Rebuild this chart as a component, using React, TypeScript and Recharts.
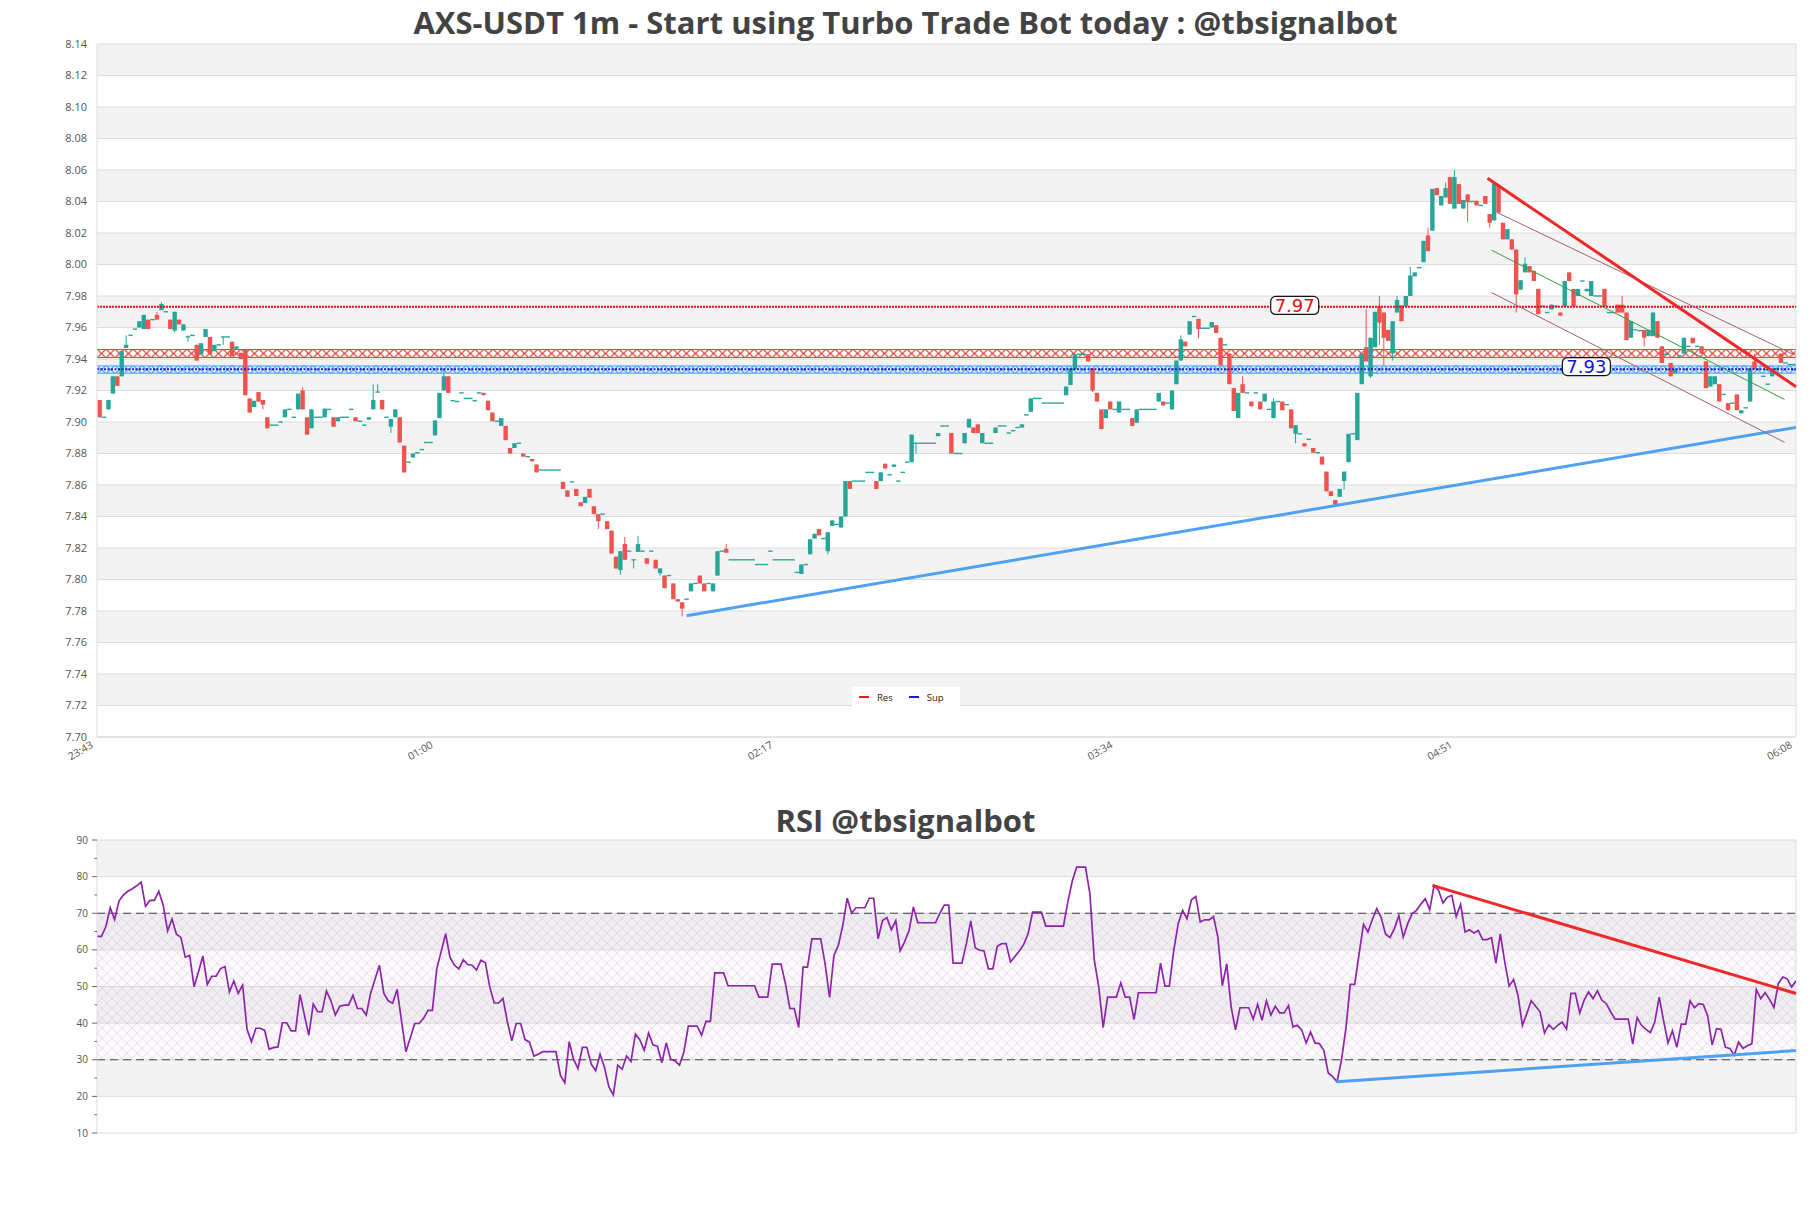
import React from 'react'
import {
  Bar,
  CartesianGrid,
  ComposedChart,
  Line,
  ReferenceArea,
  ReferenceDot,
  ReferenceLine,
  XAxis,
  YAxis,
} from 'recharts'

// 1m candles, 23:43 -> 06:07
// prettier-ignore
const opens = [
  7.914, 7.903, 7.908, 7.918, 7.929, 7.929, 7.947, 7.955, 7.959, 7.960,
  7.959, 7.965, 7.965, 7.968, 7.971, 7.970, 7.965, 7.958, 7.965, 7.958,
  7.954, 7.955, 7.949, 7.943, 7.954, 7.954, 7.945, 7.949, 7.954, 7.954,
  7.951, 7.9465, 7.944, 7.946, 7.915, 7.9095, 7.919, 7.914, 7.903, 7.898,
  7.898, 7.900, 7.903, 7.908, 7.903, 7.908, 7.920, 7.903, 7.896, 7.903,
  7.903, 7.903, 7.908, 7.903, 7.9005, 7.903, 7.903, 7.908, 7.903, 7.9005,
  7.898, 7.9015, 7.908, 7.919, 7.914, 7.903, 7.897, 7.903, 7.903, 7.885,
  7.8745, 7.8775, 7.8805, 7.8825, 7.887, 7.887, 7.8915, 7.9025, 7.920, 7.929,
  7.9135, 7.913, 7.9185, 7.915, 7.915, 7.9135, 7.9185, 7.9185, 7.9135, 7.906,
  7.9005, 7.8975, 7.8975, 7.8835, 7.8835, 7.8865, 7.880, 7.878, 7.8765, 7.873,
  7.8695, 7.8695, 7.8695, 7.8695, 7.8695, 7.862, 7.8565, 7.862, 7.8575, 7.849,
  7.8485, 7.8575, 7.8465, 7.8415, 7.8415, 7.837, 7.831, 7.8145, 7.806, 7.8225,
  7.818, 7.8125, 7.8175, 7.818, 7.8135, 7.818, 7.8125, 7.804, 7.8025, 7.8025,
  7.7975, 7.7875, 7.7855, 7.7875, 7.7925, 7.7975, 7.8025, 7.7975, 7.7975, 7.7925,
  7.8025, 7.818, 7.8195, 7.8125, 7.8125, 7.8125, 7.8125, 7.8125, 7.8125, 7.8095,
  7.8095, 7.8095, 7.818, 7.8125, 7.8125, 7.8125, 7.8125, 7.8125, 7.8045, 7.8035,
  7.8095, 7.816, 7.826, 7.832, 7.826, 7.818, 7.834, 7.835, 7.833, 7.840,
  7.8625, 7.8625, 7.8625, 7.8625, 7.868, 7.868, 7.8625, 7.8625, 7.8735, 7.8665,
  7.8715, 7.8625, 7.868, 7.8745, 7.8745, 7.8865, 7.8865, 7.8865, 7.8865, 7.8865,
  7.891, 7.8975, 7.8975, 7.893, 7.880, 7.880, 7.8865, 7.8965, 7.8965, 7.8985,
  7.8865, 7.8865, 7.8865, 7.893, 7.8975, 7.8975, 7.893, 7.8945, 7.8965, 7.8965,
  7.9045, 7.9065, 7.915, 7.915, 7.912, 7.912, 7.912, 7.912, 7.912, 7.917,
  7.9235, 7.9335, 7.943, 7.943, 7.943, 7.934, 7.9185, 7.908, 7.9025, 7.913,
  7.908, 7.906, 7.908, 7.908, 7.9025, 7.8995, 7.908, 7.908, 7.908, 7.908,
  7.913, 7.913, 7.912, 7.908, 7.924, 7.939, 7.951, 7.9555, 7.967, 7.9655,
  7.9595, 7.9595, 7.960, 7.9615, 7.9535, 7.949, 7.9435, 7.9215, 7.9025, 7.924,
  7.9185, 7.913, 7.9185, 7.913, 7.913, 7.908, 7.9025, 7.913, 7.913, 7.911,
  7.908, 7.8925, 7.8925, 7.8865, 7.889, 7.8835, 7.8805, 7.878, 7.8685, 7.856,
  7.8505, 7.8525, 7.8625, 7.8745, 7.8925, 7.8885, 7.924, 7.9475, 7.929, 7.9475,
  7.9735, 7.9695, 7.9585, 7.9435, 7.9695, 7.974, 7.9735, 7.980, 7.9925, 7.998,
  8.0015, 8.0185, 8.0215, 8.0485, 8.0375, 8.0425, 8.0555, 8.0355, 8.051, 8.0355,
  8.0445, 8.040, 8.0405, 8.0375, 8.0435, 8.032, 8.028, 8.050, 8.0265, 8.016,
  8.016, 8.0095, 7.984, 7.995, 7.999, 7.996, 7.9845, 7.9735, 7.9695, 7.9715,
  7.9735, 7.9695, 7.9735, 7.995, 7.9845, 7.980, 7.9895, 7.983, 7.980, 7.980,
  7.980, 7.9845, 7.9695, 7.9695, 7.9745, 7.9745, 7.9695, 7.9535, 7.9585, 7.958,
  7.9585, 7.9545, 7.9545, 7.964, 7.948, 7.943, 7.9375, 7.931, 7.942, 7.9435,
  7.948, 7.9535, 7.948, 7.948, 7.9385, 7.9225, 7.924, 7.924, 7.9175, 7.912,
  7.912, 7.9175, 7.9055, 7.909, 7.913, 7.9385, 7.9335, 7.929, 7.924, 7.929,
  7.934, 7.9435, 7.9375, 7.9365, 7.9365,
]
// prettier-ignore
const highs = [
  7.914, 7.903, 7.914, 7.929, 7.929, 7.945, 7.955, 7.955, 7.959, 7.964,
  7.968, 7.965, 7.965, 7.970, 7.976, 7.970, 7.965, 7.970, 7.965, 7.962,
  7.955, 7.955, 7.949, 7.950, 7.959, 7.954, 7.949, 7.949, 7.954, 7.954,
  7.951, 7.948, 7.944, 7.946, 7.915, 7.9135, 7.919, 7.914, 7.903, 7.898,
  7.898, 7.900, 7.908, 7.908, 7.903, 7.918, 7.922, 7.903, 7.908, 7.903,
  7.903, 7.9085, 7.908, 7.903, 7.903, 7.903, 7.903, 7.908, 7.903, 7.9005,
  7.898, 7.903, 7.924, 7.924, 7.914, 7.903, 7.902, 7.908, 7.903, 7.885,
  7.8745, 7.880, 7.8805, 7.8825, 7.887, 7.887, 7.901, 7.9185, 7.934, 7.929,
  7.9135, 7.913, 7.9185, 7.915, 7.915, 7.9135, 7.9185, 7.9185, 7.9135, 7.906,
  7.9005, 7.9025, 7.8975, 7.8835, 7.8865, 7.8865, 7.880, 7.878, 7.8765, 7.873,
  7.8695, 7.8695, 7.8695, 7.8695, 7.8695, 7.862, 7.8565, 7.862, 7.8575, 7.849,
  7.8525, 7.8575, 7.8465, 7.8415, 7.8415, 7.837, 7.831, 7.8145, 7.818, 7.827,
  7.818, 7.8125, 7.8275, 7.818, 7.8135, 7.818, 7.8125, 7.807, 7.8025, 7.8025,
  7.7975, 7.7875, 7.7855, 7.7875, 7.7975, 7.7975, 7.8025, 7.7975, 7.7975, 7.7975,
  7.818, 7.818, 7.8225, 7.8125, 7.8125, 7.8125, 7.8125, 7.8125, 7.8125, 7.8095,
  7.8095, 7.8095, 7.818, 7.8125, 7.8125, 7.8125, 7.8125, 7.8125, 7.8045, 7.8095,
  7.8095, 7.8255, 7.829, 7.832, 7.826, 7.830, 7.8375, 7.835, 7.840, 7.8625,
  7.8625, 7.8625, 7.8625, 7.8625, 7.868, 7.868, 7.8625, 7.868, 7.8735, 7.8665,
  7.873, 7.8625, 7.868, 7.8745, 7.892, 7.8865, 7.8865, 7.8865, 7.8865, 7.8865,
  7.893, 7.8975, 7.8975, 7.893, 7.880, 7.880, 7.893, 7.902, 7.8965, 7.8985,
  7.893, 7.8865, 7.8865, 7.8965, 7.8975, 7.8975, 7.893, 7.8945, 7.8965, 7.8985,
  7.9045, 7.915, 7.915, 7.915, 7.912, 7.912, 7.912, 7.912, 7.912, 7.9225,
  7.934, 7.943, 7.943, 7.943, 7.943, 7.934, 7.9185, 7.908, 7.908, 7.913,
  7.908, 7.913, 7.908, 7.908, 7.9025, 7.908, 7.908, 7.908, 7.908, 7.908,
  7.9185, 7.913, 7.912, 7.920, 7.939, 7.955, 7.951, 7.964, 7.967, 7.9655,
  7.9595, 7.9595, 7.9635, 7.9615, 7.9535, 7.949, 7.9435, 7.9215, 7.9185, 7.929,
  7.9185, 7.913, 7.9185, 7.913, 7.918, 7.908, 7.915, 7.913, 7.913, 7.911,
  7.908, 7.898, 7.8925, 7.8865, 7.889, 7.8835, 7.8805, 7.878, 7.8685, 7.856,
  7.8505, 7.8575, 7.8685, 7.8925, 7.8925, 7.9185, 7.9435, 7.9715, 7.9535, 7.970,
  7.980, 7.9695, 7.9585, 7.964, 7.980, 7.974, 7.980, 7.9985, 7.995, 7.998,
  8.015, 8.0235, 8.048, 8.0485, 8.0435, 8.052, 8.0555, 8.060, 8.051, 8.041,
  8.0445, 8.040, 8.0405, 8.0375, 8.0435, 8.032, 8.0515, 8.050, 8.0265, 8.0225,
  8.016, 8.0095, 7.990, 8.0045, 7.999, 7.996, 7.9845, 7.9735, 7.9695, 7.9745,
  7.9735, 7.9695, 7.9895, 7.995, 7.9845, 7.9845, 7.9895, 7.9845, 7.9895, 7.980,
  7.980, 7.9845, 7.9695, 7.9695, 7.9745, 7.980, 7.9695, 7.964, 7.9585, 7.958,
  7.9585, 7.9585, 7.9695, 7.964, 7.948, 7.943, 7.9375, 7.9335, 7.942, 7.9535,
  7.948, 7.9535, 7.948, 7.948, 7.9385, 7.929, 7.929, 7.924, 7.9175, 7.912,
  7.912, 7.9175, 7.9075, 7.909, 7.934, 7.9435, 7.9335, 7.929, 7.924, 7.934,
  7.934, 7.9435, 7.9375, 7.9365, 7.9365,
]
// prettier-ignore
const lows = [
  7.903, 7.903, 7.908, 7.918, 7.923, 7.929, 7.947, 7.955, 7.959, 7.960,
  7.959, 7.959, 7.965, 7.965, 7.971, 7.970, 7.959, 7.957, 7.962, 7.958,
  7.951, 7.955, 7.939, 7.943, 7.954, 7.943, 7.945, 7.949, 7.949, 7.954,
  7.942, 7.9465, 7.940, 7.917, 7.906, 7.9095, 7.913, 7.908, 7.896, 7.898,
  7.898, 7.900, 7.903, 7.908, 7.903, 7.908, 7.908, 7.892, 7.896, 7.903,
  7.903, 7.903, 7.908, 7.897, 7.9005, 7.903, 7.903, 7.908, 7.9005, 7.9005,
  7.898, 7.9015, 7.908, 7.919, 7.908, 7.903, 7.893, 7.903, 7.887, 7.868,
  7.8745, 7.8775, 7.8805, 7.8825, 7.887, 7.887, 7.8915, 7.9025, 7.920, 7.9185,
  7.9135, 7.913, 7.9185, 7.915, 7.915, 7.9135, 7.9185, 7.917, 7.9075, 7.9005,
  7.9005, 7.8975, 7.8885, 7.880, 7.8835, 7.8865, 7.878, 7.878, 7.875, 7.868,
  7.8695, 7.8695, 7.8695, 7.8695, 7.8695, 7.8575, 7.8525, 7.862, 7.853, 7.8465,
  7.8485, 7.852, 7.8415, 7.832, 7.8415, 7.832, 7.8165, 7.807, 7.803, 7.8125,
  7.818, 7.807, 7.8175, 7.818, 7.810, 7.818, 7.807, 7.8025, 7.7945, 7.8025,
  7.7875, 7.786, 7.7766, 7.7875, 7.7925, 7.7975, 7.7975, 7.7925, 7.7975, 7.7925,
  7.8025, 7.818, 7.817, 7.8125, 7.8125, 7.8125, 7.8125, 7.8125, 7.8125, 7.8095,
  7.8095, 7.8095, 7.818, 7.8125, 7.8125, 7.8125, 7.8125, 7.8125, 7.8045, 7.8035,
  7.8095, 7.816, 7.826, 7.828, 7.826, 7.816, 7.834, 7.835, 7.833, 7.840,
  7.8575, 7.8625, 7.8625, 7.8625, 7.868, 7.868, 7.8575, 7.8625, 7.8705, 7.8665,
  7.8715, 7.8625, 7.868, 7.8745, 7.8745, 7.880, 7.8865, 7.8865, 7.8865, 7.8865,
  7.891, 7.8975, 7.8975, 7.880, 7.880, 7.880, 7.8865, 7.8965, 7.893, 7.893,
  7.8865, 7.8865, 7.8865, 7.893, 7.8975, 7.8975, 7.893, 7.8945, 7.8965, 7.8965,
  7.9045, 7.9065, 7.915, 7.915, 7.912, 7.912, 7.912, 7.912, 7.912, 7.917,
  7.9235, 7.9335, 7.943, 7.943, 7.9385, 7.919, 7.913, 7.8955, 7.9025, 7.908,
  7.908, 7.906, 7.908, 7.908, 7.8975, 7.8995, 7.908, 7.908, 7.908, 7.908,
  7.913, 7.9105, 7.912, 7.908, 7.924, 7.939, 7.948, 7.9555, 7.967, 7.953,
  7.9595, 7.9595, 7.960, 7.9565, 7.936, 7.949, 7.924, 7.907, 7.9025, 7.9185,
  7.9185, 7.910, 7.9185, 7.908, 7.913, 7.908, 7.9025, 7.913, 7.9075, 7.911,
  7.896, 7.8865, 7.8925, 7.8845, 7.889, 7.8805, 7.8805, 7.873, 7.856, 7.853,
  7.8463, 7.8525, 7.857, 7.8745, 7.8925, 7.8885, 7.924, 7.9385, 7.928, 7.9475,
  7.949, 7.936, 7.9515, 7.939, 7.9695, 7.964, 7.9735, 7.980, 7.9925, 7.998,
  8.0015, 8.0085, 8.0215, 8.044, 8.0375, 8.0425, 8.0385, 8.0355, 8.0385, 8.0355,
  8.027, 8.040, 8.0375, 8.0375, 8.0385, 8.0235, 8.028, 8.033, 8.016, 8.016,
  8.0095, 7.9695, 7.984, 7.995, 7.995, 7.9895, 7.9685, 7.9735, 7.9695, 7.9715,
  7.9735, 7.9675, 7.9735, 7.9895, 7.9735, 7.980, 7.9895, 7.983, 7.980, 7.980,
  7.980, 7.9735, 7.9695, 7.9695, 7.9695, 7.9695, 7.952, 7.9535, 7.9585, 7.958,
  7.948, 7.9545, 7.9545, 7.9535, 7.9375, 7.943, 7.929, 7.931, 7.942, 7.9435,
  7.948, 7.950, 7.948, 7.9435, 7.9215, 7.9225, 7.924, 7.913, 7.9175, 7.9075,
  7.912, 7.9075, 7.9055, 7.909, 7.913, 7.9335, 7.9335, 7.929, 7.924, 7.929,
  7.934, 7.9375, 7.9375, 7.9365, 7.9365,
]
// prettier-ignore
const closes = [
  7.903, 7.903, 7.914, 7.929, 7.923, 7.945, 7.949, 7.955, 7.959, 7.964,
  7.968, 7.959, 7.965, 7.965, 7.975, 7.970, 7.959, 7.970, 7.962, 7.962,
  7.954, 7.955, 7.939, 7.950, 7.959, 7.943, 7.949, 7.949, 7.954, 7.954,
  7.942, 7.948, 7.940, 7.917, 7.906, 7.9135, 7.913, 7.911, 7.896, 7.898,
  7.898, 7.900, 7.908, 7.908, 7.903, 7.918, 7.908, 7.892, 7.908, 7.903,
  7.903, 7.9085, 7.908, 7.897, 7.903, 7.903, 7.903, 7.908, 7.9005, 7.9005,
  7.898, 7.903, 7.914, 7.919, 7.908, 7.903, 7.902, 7.908, 7.887, 7.868,
  7.8745, 7.880, 7.8805, 7.8825, 7.887, 7.887, 7.901, 7.9185, 7.929, 7.9185,
  7.9135, 7.913, 7.9185, 7.915, 7.915, 7.9135, 7.9185, 7.917, 7.9075, 7.9005,
  7.9005, 7.9025, 7.8885, 7.880, 7.8865, 7.8865, 7.878, 7.878, 7.875, 7.868,
  7.8695, 7.8695, 7.8695, 7.8695, 7.8695, 7.8575, 7.8525, 7.862, 7.853, 7.8465,
  7.8525, 7.852, 7.8415, 7.837, 7.8415, 7.832, 7.8165, 7.807, 7.818, 7.8125,
  7.818, 7.8125, 7.8225, 7.818, 7.810, 7.818, 7.807, 7.807, 7.7945, 7.8025,
  7.7875, 7.786, 7.7815, 7.7875, 7.7975, 7.7975, 7.7975, 7.7925, 7.7975, 7.7975,
  7.818, 7.818, 7.817, 7.8125, 7.8125, 7.8125, 7.8125, 7.8125, 7.8125, 7.8095,
  7.8095, 7.8095, 7.818, 7.8125, 7.8125, 7.8125, 7.8125, 7.8125, 7.8045, 7.8095,
  7.8095, 7.8255, 7.829, 7.828, 7.826, 7.830, 7.8375, 7.835, 7.840, 7.8625,
  7.8575, 7.8625, 7.8625, 7.8625, 7.868, 7.868, 7.8575, 7.868, 7.8705, 7.8665,
  7.873, 7.8625, 7.868, 7.8745, 7.892, 7.8865, 7.8865, 7.8865, 7.8865, 7.8865,
  7.893, 7.8975, 7.8975, 7.880, 7.880, 7.880, 7.893, 7.902, 7.893, 7.893,
  7.893, 7.8865, 7.8865, 7.8965, 7.8975, 7.8975, 7.893, 7.8945, 7.8965, 7.8985,
  7.9045, 7.915, 7.915, 7.915, 7.912, 7.912, 7.912, 7.912, 7.912, 7.9225,
  7.934, 7.943, 7.943, 7.943, 7.9385, 7.920, 7.913, 7.8955, 7.908, 7.908,
  7.908, 7.913, 7.908, 7.908, 7.8975, 7.908, 7.908, 7.908, 7.908, 7.908,
  7.9185, 7.9105, 7.912, 7.920, 7.939, 7.9525, 7.948, 7.964, 7.967, 7.959,
  7.9595, 7.9595, 7.9635, 7.9565, 7.936, 7.949, 7.924, 7.907, 7.9185, 7.9185,
  7.9185, 7.910, 7.9185, 7.908, 7.918, 7.908, 7.913, 7.913, 7.9075, 7.911,
  7.896, 7.898, 7.8925, 7.8845, 7.889, 7.8805, 7.8805, 7.873, 7.856, 7.853,
  7.8475, 7.8575, 7.8685, 7.8925, 7.8925, 7.9185, 7.9435, 7.9385, 7.9535, 7.970,
  7.963, 7.9535, 7.9515, 7.964, 7.9775, 7.964, 7.980, 7.993, 7.995, 7.998,
  8.015, 8.0085, 8.048, 8.044, 8.0435, 8.0485, 8.0385, 8.0555, 8.0385, 8.041,
  8.0395, 8.040, 8.0375, 8.0375, 8.0385, 8.0265, 8.0515, 8.033, 8.016, 8.0225,
  8.0095, 7.981, 7.990, 8.0005, 7.995, 7.9895, 7.9685, 7.9735, 7.9695, 7.9745,
  7.9735, 7.9675, 7.9895, 7.9895, 7.9735, 7.9845, 7.9895, 7.9845, 7.9895, 7.980,
  7.980, 7.9735, 7.9695, 7.9695, 7.9695, 7.9695, 7.952, 7.964, 7.9585, 7.958,
  7.9535, 7.9585, 7.9695, 7.9535, 7.9375, 7.943, 7.929, 7.9335, 7.942, 7.9535,
  7.948, 7.950, 7.948, 7.9435, 7.9215, 7.929, 7.929, 7.913, 7.9175, 7.9075,
  7.912, 7.9075, 7.9075, 7.909, 7.934, 7.9335, 7.9335, 7.929, 7.924, 7.934,
  7.934, 7.9375, 7.9375, 7.9365, 7.9365,
]

// RSI(14), one value per minute
// prettier-ignore
const rsiValues = [
  63.7, 63.7, 66.3, 71.5, 68.3, 73.4, 75, 76, 76.7, 77.5,
  78.5, 71.9, 73.5, 73.5, 76, 72.2, 65.2, 68.4, 64.3, 63.4,
  58, 58.5, 49.9, 54, 58.3, 50.6, 52.8, 52.8, 54.9, 55.4,
  48.5, 51.5, 48.1, 50.4, 38.3, 34.9, 38.6, 38.6, 38, 32.9,
  33.3, 33.5, 40.1, 40.1, 37.9, 37.9, 47.8, 42.2, 36.7, 45.2,
  43.1, 43.1, 48.8, 46.1, 42.2, 44.6, 44.9, 44.9, 47.6, 44,
  44, 42.2, 48.1, 52, 55.8, 48.1, 46.1, 45.4, 49.2, 40.7,
  32.2, 36, 39.9, 39.9, 41.3, 43.5, 43.5, 54.9, 59.6, 64.4,
  57.9, 55.8, 54.8, 57.3, 56, 55.8, 54.5, 57.2, 56.5, 49.9,
  45.5, 45.5, 46.7, 40.3, 35.2, 39.9, 39.9, 35.5, 34.8, 31,
  31.5, 32.2, 32.2, 32.2, 32.2, 25.8, 23.7, 34.9, 30.1, 27.6,
  33.4, 33.4, 28.8, 27, 31.5, 27.9, 22.6, 20.4, 28.5, 27.4,
  31, 29.5, 37, 35.5, 32.6, 37.3, 34, 33.7, 29.2, 34.6,
  30.1, 29.7, 28.5, 32.2, 39.2, 39.2, 39.2, 36.7, 40.5, 40.5,
  53.7, 53.7, 53.7, 50.2, 50.2, 50.2, 50.2, 50.2, 50.2, 50.2,
  47.1, 47.1, 47.1, 56.1, 56.1, 56.1, 50.8, 44, 44, 38.8,
  55.3, 55.3, 63, 63, 63, 56.1, 47, 58.5, 61.3, 66.7,
  74.1, 70, 71.5, 71.5, 71.5, 74.1, 74.1, 63, 68, 68.8,
  65.5, 68, 59.7, 62.2, 65.2, 71.7, 67.4, 67.4, 67.4, 67.4,
  67.4, 70, 72.2, 72.2, 56.4, 56.4, 56.4, 61.7, 67.9, 60.6,
  59.9, 59.7, 54.8, 54.8, 61, 61.7, 61.7, 56.7, 58.2, 59.7,
  61.5, 64.4, 70.3, 70.3, 70.3, 66.5, 66.5, 66.5, 66.5, 66.5,
  73.1, 78.8, 82.6, 82.6, 82.6, 75.3, 57.1, 49.9, 38.8, 47.1,
  47.1, 47.1, 51, 47.1, 47.1, 41, 48.3, 48.3, 48.3, 48.3,
  48.3, 56.4, 50.1, 50.1, 59.9, 67.1, 70.8, 68.5, 73.7, 74.6,
  67.6, 68.2, 68.2, 69.1, 63.5, 50.2, 56.2, 44.4, 38.2, 44.2,
  44.2, 44.2, 41.1, 45.1, 40.8, 46.1, 42.2, 44.6, 42.8, 42.8,
  44.8, 39, 39.4, 38.1, 34.6, 37.6, 34.6, 34.4, 32.6, 26.4,
  25.4, 24, 29.9, 38.5, 50.6, 50.6, 59, 67, 64.9, 68.3,
  71.3, 68.8, 64.3, 63.4, 65.8, 69.4, 63.5, 67.1, 69.9, 70.8,
  72.5, 74, 71, 77.6, 76.2, 72.8, 74.4, 74.9, 69.1, 72.4,
  64.9, 65.5, 64.6, 65.3, 62.8, 62.8, 63.3, 56.4, 64.4, 56.7,
  50.1, 51.9, 47.6, 39.4, 42.6, 46.1, 44.6, 43.1, 37.3, 39.6,
  38.3, 39.4, 40.3, 38.4, 48.1, 48.1, 42.8, 46.3, 48.5, 46.7,
  48.8, 46.3, 45.3, 43.1, 41.1, 41.1, 41.1, 41.1, 34.3, 41.5,
  39.4, 38.3, 37.4, 40.3, 47.1, 40.6, 34.6, 37.9, 33.4, 39.7,
  39.7, 46.1, 44.2, 45.3, 45.1, 41.9, 34, 38.5, 38.3, 33.4,
  33.1, 31.3, 34.8, 33.1, 33.8, 34.4, 49.2, 46.7, 48.3, 46.5,
  44.3, 50.8, 52.6, 52.1, 49.9, 51.5,
]

const timeTicks = [0, 77, 154, 231, 308, 385]
const timeLabels = ['23:43', '01:00', '02:17', '03:34', '04:51', '06:08']
// prettier-ignore
const priceTicks = [
  7.70, 7.72, 7.74, 7.76, 7.78, 7.80, 7.82, 7.84, 7.86, 7.88, 7.90, 7.92,
  7.94, 7.96, 7.98, 8.00, 8.02, 8.04, 8.06, 8.08, 8.10, 8.12, 8.14,
]
const rsiMajorTicks = [10, 20, 30, 40, 50, 60, 70, 80, 90]
const rsiAllTicks = [10, 15, 20, 25, 30, 35, 40, 45, 50, 55, 60, 65, 70, 75, 80, 85, 90]

// levels and trend lines
const resistanceLevel = 7.9732
const supportLevel = 7.9335
const resistanceZone = [7.941, 7.946]
const supportZone = [7.931, 7.9356]
const resistanceTag = { x: 271.4, y: 7.974, text: '7.97' }
const supportTag = { x: 337.5, y: 7.9352, text: '7.93' }
const supportTrend = [{ x: 133.6, y: 7.777 }, { x: 385, y: 7.8966 }]
const resistanceTrend = [{ x: 315.1, y: 8.0547 }, { x: 385, y: 7.9224 }]
const channelUpper = [{ x: 317.2, y: 8.0331 }, { x: 384.4, y: 7.9429 }]
const channelMid = [{ x: 316.0, y: 8.0091 }, { x: 382.4, y: 7.9143 }]
const channelLower = [{ x: 316.0, y: 7.9822 }, { x: 382.4, y: 7.8871 }]
const rsiDownTrend = [{ x: 302.6, y: 77.6 }, { x: 385, y: 48.1 }]
const rsiUpTrend = [{ x: 280.9, y: 24 }, { x: 385, y: 32.5 }]

const UP = '#26a69a'
const DOWN = '#ef5350'
const GRID = '#dcdcdc'
const FONT = '"Open Sans", "DejaVu Sans", sans-serif'
const CANDLE_SHIFT = 0.6

const candleRows = opens.map((o, i) => ({
  x: i + CANDLE_SHIFT,
  open: o,
  high: highs[i],
  low: lows[i],
  close: closes[i],
  range: [lows[i], highs[i]],
}))

const rsiRows = rsiValues.map((v, i) => ({ x: i, rsi: v }))

function Candle(props: any) {
  const { x, y, width, height, payload } = props
  if (x == null || y == null || !payload) return null
  const top = Math.min(y, y + height)
  const h = Math.abs(height)
  const { open, close, high, low } = payload
  const span = high - low
  const toY = (v: number) => (span > 0 ? top + ((high - v) / span) * h : top)
  const color = close >= open ? UP : DOWN
  const cx = x + width / 2
  const bTop = toY(Math.max(open, close))
  const rawH = toY(Math.min(open, close)) - bTop
  const bH = Math.max(rawH, 1.4)
  return (
    <g>
      {span > 0 && <line x1={cx} x2={cx} y1={top} y2={top + h} stroke={color} strokeWidth={1} />}
      <rect x={x} y={rawH < 1.4 ? bTop - 0.7 : bTop} width={width} height={bH} fill={color} />
    </g>
  )
}

function xBand(id: string, color: string) {
  return (p: any) => {
    const { x, y, width, height } = p
    const step = 9
    return (
      <g>
        <defs>
          <pattern id={id} patternUnits="userSpaceOnUse" x={x} y={y} width={step} height={height}>
            <path
              d={`M0.5 0 L${step - 0.5} ${height} M0.5 ${height} L${step - 0.5} 0`}
              stroke={color}
              strokeWidth={1.1}
              fill="none"
            />
          </pattern>
        </defs>
        <rect x={x} y={y} width={width} height={height} fill={`url(#${id})`} />
        <line x1={x} x2={x + width} y1={y} y2={y} stroke={color} strokeWidth={1} />
        <line x1={x} x2={x + width} y1={y + height} y2={y + height} stroke={color} strokeWidth={1} />
      </g>
    )
  }
}

function crossHatch(p: any) {
  const { x, y, width, height } = p
  return (
    <g>
      <defs>
        <pattern id="rsiHatch" patternUnits="userSpaceOnUse" x={x} y={y} width={10} height={10}>
          <path d="M0 0 L10 10 M10 0 L0 10" stroke="#b7a6c6" strokeWidth={0.6} fill="none" opacity={0.55} />
        </pattern>
      </defs>
      <rect x={x} y={y} width={width} height={height} fill="rgba(190,150,210,0.05)" />
      <rect x={x} y={y} width={width} height={height} fill="url(#rsiHatch)" />
    </g>
  )
}

function priceTag(text: string, color: string) {
  return (p: any) => {
    const { cx, cy } = p
    if (cx == null || cy == null) return null
    return (
      <g>
        <rect x={cx - 24} y={cy - 9} width={48} height={18} rx={5} fill="#fff" stroke="#111" strokeWidth={1.2} />
        <text x={cx} y={cy + 6.5} textAnchor="middle" fontSize={18} fill={color} fontFamily='"DejaVu Sans", sans-serif'>
          {text}
        </text>
      </g>
    )
  }
}

function TimeTick(props: any) {
  const { x, y, payload } = props
  const label = timeLabels[timeTicks.indexOf(payload.value)]
  const ax = x - 3
  const ay = y + 10
  return (
    <text
      x={ax}
      y={ay}
      transform={`rotate(-30 ${ax} ${ay})`}
      textAnchor="end"
      fontSize={10.5}
      fill="#555"
      fontFamily={FONT}
    >
      {label}
    </text>
  )
}

function RsiTick(props: any) {
  const { x, y, payload } = props
  const major = payload.value % 10 === 0
  return (
    <g>
      <line x1={x - (major ? 5 : 2.5)} x2={x} y1={y} y2={y} stroke="#666" strokeWidth={1} />
      {major && (
        <text x={x - 9} y={y + 3.5} textAnchor="end" fontSize={10} fill="#555" fontFamily={FONT}>
          {payload.value}
        </text>
      )}
    </g>
  )
}

const titleStyle: React.CSSProperties = {
  position: 'absolute',
  left: 0,
  width: 1811,
  textAlign: 'center',
  fontFamily: FONT,
  fontWeight: 700,
  fontSize: 31,
  color: '#434343',
  lineHeight: '34px',
}

export default function App() {
  return (
    <div style={{ position: 'absolute', left: 0, top: 0, width: 1811, height: 1208, background: '#fff' }}>
      <div style={{ ...titleStyle, top: 5 }}>AXS-USDT 1m - Start using Turbo Trade Bot today : @tbsignalbot</div>

      <div style={{ position: 'absolute', left: 0, top: 0 }}>
        <ComposedChart width={1811} height={800} data={candleRows} margin={{ top: 44, right: 15, bottom: 23, left: 0 }}>
          <CartesianGrid vertical={false} stroke={GRID} horizontalFill={['#f3f3f3', '#ffffff']} />
          <XAxis
            type="number"
            dataKey="x"
            domain={[0, 385]}
            ticks={timeTicks}
            tick={TimeTick}
            tickLine={false}
            tickSize={0}
            tickMargin={0}
            axisLine={{ stroke: GRID }}
            height={40}
            allowDataOverflow
          />
          <YAxis
            type="number"
            domain={[7.7, 8.14]}
            ticks={priceTicks}
            tickFormatter={(v: number) => v.toFixed(2)}
            tick={{ fontSize: 11, fill: '#555', fontFamily: FONT }}
            tickLine={false}
            tickSize={0}
            tickMargin={10}
            axisLine={{ stroke: GRID }}
            width={97}
            allowDataOverflow
          />
          <ReferenceLine x={385} stroke={GRID} />
          <ReferenceArea y1={resistanceZone[0]} y2={resistanceZone[1]} shape={xBand('resBand', '#e53935')} />
          <ReferenceArea y1={supportZone[0]} y2={supportZone[1]} shape={xBand('supBand', '#3d9cff')} />
          <ReferenceLine y={supportLevel} stroke="#1a1ad6" strokeWidth={2} strokeDasharray="2 1.5" />
          <ReferenceLine y={resistanceLevel} stroke="#e01010" strokeWidth={2} strokeDasharray="2 1" />
          <Bar dataKey="range" barSize={4.4} shape={Candle} isAnimationActive={false} />
          <ReferenceLine segment={supportTrend} stroke="#4ea1f3" strokeWidth={3} />
          <ReferenceLine segment={channelUpper} stroke="#a2606f" strokeWidth={1} />
          <ReferenceLine segment={channelLower} stroke="#a2606f" strokeWidth={1} />
          <ReferenceLine segment={channelMid} stroke="#2f9e3a" strokeWidth={1} />
          <ReferenceLine segment={resistanceTrend} stroke="#f02828" strokeWidth={3} />
          <ReferenceDot
            x={resistanceTag.x}
            y={resistanceTag.y}
            r={0}
            shape={priceTag(resistanceTag.text, '#e01010')}
          />
          <ReferenceDot x={supportTag.x} y={supportTag.y} r={0} shape={priceTag(supportTag.text, '#1515d0')} />
        </ComposedChart>
      </div>

      <div
        style={{
          position: 'absolute',
          left: 852,
          top: 687,
          width: 108,
          height: 20,
          background: '#fff',
          display: 'flex',
          alignItems: 'center',
          fontFamily: FONT,
          fontSize: 9.5,
          color: '#222',
        }}
      >
        <span style={{ display: 'inline-block', width: 10, height: 2, background: '#e02020', marginLeft: 7 }} />
        <span style={{ marginLeft: 8 }}>Res</span>
        <span style={{ display: 'inline-block', width: 10, height: 2, background: '#1a1ad6', marginLeft: 16 }} />
        <span style={{ marginLeft: 8 }}>Sup</span>
      </div>

      <div style={{ ...titleStyle, top: 803 }}>RSI @tbsignalbot</div>

      <div style={{ position: 'absolute', left: 0, top: 780 }}>
        <ComposedChart width={1811} height={428} data={rsiRows} margin={{ top: 60, right: 15, bottom: 75, left: 0 }}>
          <CartesianGrid
            vertical={false}
            stroke={GRID}
            horizontalValues={rsiMajorTicks}
            horizontalFill={['#f3f3f3', '#ffffff']}
          />
          <XAxis type="number" dataKey="x" domain={[0, 385]} hide allowDataOverflow />
          <YAxis
            type="number"
            domain={[10, 90]}
            ticks={rsiAllTicks}
            tick={RsiTick}
            tickLine={false}
            tickSize={0}
            tickMargin={0}
            axisLine={{ stroke: GRID }}
            width={97}
            interval={0}
          />
          <ReferenceLine x={385} stroke={GRID} />
          <ReferenceArea y1={30} y2={70} shape={crossHatch} />
          <ReferenceLine y={70} stroke="#444" strokeWidth={1.2} strokeDasharray="8 5" />
          <ReferenceLine y={30} stroke="#444" strokeWidth={1.2} strokeDasharray="8 5" />
          <Line
            type="linear"
            dataKey="rsi"
            stroke="#8e24aa"
            strokeWidth={1.7}
            dot={false}
            isAnimationActive={false}
          />
          <ReferenceLine segment={rsiDownTrend} stroke="#f02828" strokeWidth={3} />
          <ReferenceLine segment={rsiUpTrend} stroke="#4ea1f3" strokeWidth={3} />
        </ComposedChart>
      </div>
    </div>
  )
}
